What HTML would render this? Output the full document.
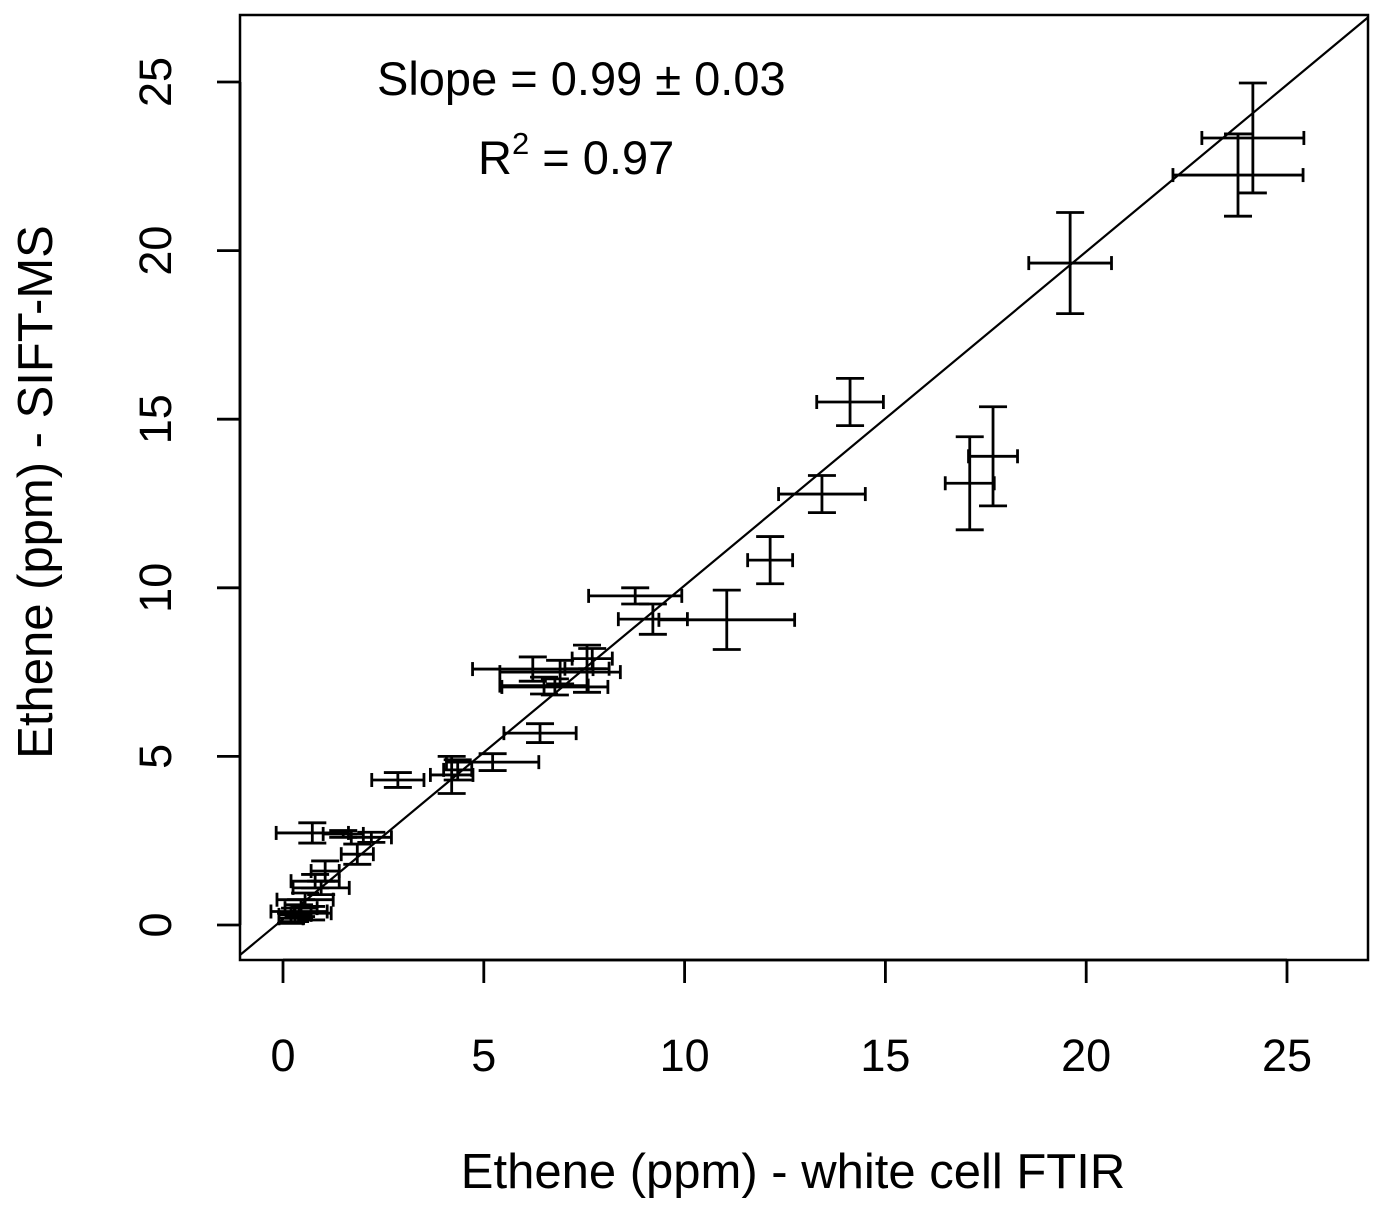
<!DOCTYPE html>
<html><head><meta charset="utf-8"><style>
html,body{margin:0;padding:0;background:#fff}
svg{display:block;font-family:"Liberation Sans",sans-serif}
</style></head><body>
<svg id="chart" width="1382" height="1211" viewBox="0 0 1382 1211" xmlns="http://www.w3.org/2000/svg">
<rect x="240" y="15" width="1128" height="945" fill="none" stroke="#000" stroke-width="2.5"/>
<g id="xaxis"></g>
<g id="yaxis"></g>
<g id="marks"></g>
<text x="793" y="1188" font-size="49" text-anchor="middle">Ethene (ppm) - white cell FTIR</text>
<text transform="translate(52,492) rotate(-90)" font-size="49" text-anchor="middle">Ethene (ppm) - SIFT-MS</text>
<text x="377" y="95" font-size="47">Slope = 0.99 ± 0.03</text>
<text x="478" y="174" font-size="47">R<tspan dy="-20" font-size="31">2</tspan><tspan dy="20"> = 0.97</tspan></text>
</svg>
<script>
const xs = [24.15,23.78,19.6,14.12,17.68,17.1,13.42,12.13,11.05,8.77,9.21,6.22,6.9,7.57,6.77,6.5,7.7,6.4,5.22,2.86,4.2,4.35,0.73,1.5,2.2,1.85,1.05,0.8,0.95,0.55,0.4,0.3,0.7,0.2,0.45];
const ys = [23.34,22.24,19.63,15.51,13.9,13.1,12.78,10.82,9.05,9.76,9.07,7.59,7.5,7.6,7.06,7.1,7.9,5.69,4.83,4.3,4.45,4.6,2.73,2.7,2.6,2.1,1.6,1.3,1.1,0.75,0.4,0.3,0.35,0.2,0.5];
const xerr = [1.27,1.62,1.03,0.83,0.61,0.61,1.08,0.56,1.69,1.16,0.86,1.5,1.5,0.55,1.32,1.1,0.5,0.9,1.15,0.65,0.53,0.35,0.9,0.5,0.5,0.4,0.35,0.6,0.7,0.7,0.7,0.4,0.5,0.3,0.4];
const yerr = [1.63,1.22,1.5,0.7,1.47,1.38,0.55,0.7,0.88,0.24,0.45,0.36,0.35,0.7,0.24,0.25,0.3,0.28,0.25,0.22,0.55,0.3,0.3,0.1,0.15,0.3,0.3,0.2,0.2,0.2,0.2,0.2,0.2,0.15,0.25];
const xTicks = [0,5,10,15,20,25];
const yTicks = [0,5,10,15,20,25];
const fitSlope = 0.99, fitIntercept = 0.17;

const NS="http://www.w3.org/2000/svg";
const sx = v => 283 + v*40.16;
const sy = v => 925 - v*33.72;
function mk(tag, attrs, parent){const e=document.createElementNS(NS,tag);for(const k in attrs)e.setAttribute(k,attrs[k]);parent.appendChild(e);return e;}
const xa=document.getElementById('xaxis'), ya=document.getElementById('yaxis'), mg=document.getElementById('marks');
const line = (x1,y1,x2,y2,p)=>mk('line',{x1,y1,x2,y2,stroke:'#000','stroke-width':2.8},p);

let l=line(sx(xTicks[0]),960,sx(xTicks[xTicks.length-1]),960,xa);


xTicks.forEach(t=>{
  const tk=line(sx(t),960,sx(t),983,xa);
  
  
  const tx=mk('text',{x:sx(t),y:1071,'font-size':45,'text-anchor':'middle'},xa);
  tx.textContent=t;
  
  
});
l=line(240,sy(yTicks[0]),240,sy(yTicks[yTicks.length-1]),ya);


yTicks.forEach(t=>{
  const tk=line(217,sy(t),240,sy(t),ya);
  
  
  const tx=mk('text',{transform:`translate(171,${sy(t)}) rotate(-90)`,'font-size':45,'text-anchor':'middle'},ya);
  tx.textContent=t;
  
  
});
const xl=(240-283)/40.16, xr=(1368-283)/40.16;
const fl=line(sx(xl),sy(fitSlope*xl+fitIntercept),sx(xr),sy(fitSlope*xr+fitIntercept),mg);
fl.setAttribute('stroke-width','2.2');


const cap=7;
xs.forEach((x,i)=>{
  const g=mk('g',{},mg);
  
  
  const cx=sx(x), cy=sy(ys[i]);
  const x1=sx(x-xerr[i]), x2=sx(x+xerr[i]), y1=sy(ys[i]+yerr[i]), y2=sy(ys[i]-yerr[i]);
  line(x1,cy,x2,cy,g); line(x1,cy-cap,x1,cy+cap,g); line(x2,cy-cap,x2,cy+cap,g);
  line(cx,y1,cx,y2,g); line(cx-cap*2,y1,cx+cap*2,y1,g); line(cx-cap*2,y2,cx+cap*2,y2,g);
});
</script>
</body></html>
